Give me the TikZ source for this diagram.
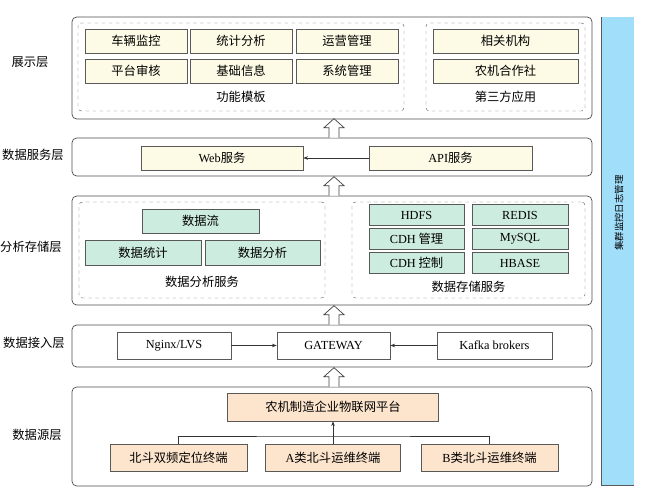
\documentclass[tikz,border=0pt]{standalone}
\usepackage{fontspec}
\setmainfont{Liberation Serif}
\newfontfamily\cjk{Noto Sans CJK SC}
\usetikzlibrary{arrows.meta, calc}
\usepackage{xcolor}
\definecolor{creamfill}{RGB}{253,251,230}
\definecolor{greenfill}{RGB}{205,236,224}
\definecolor{peachfill}{RGB}{252,228,205}
\definecolor{barblue}{RGB}{160,222,250}
\def\pxu{0.03cm}

\begin{document}
\begin{tikzpicture}[
x=0.03cm, y=-0.03cm,
font=\cjk\fontsize{10.5}{12}\selectfont,
sz/.style 2 args={minimum width=#1*\pxu, minimum height=#2*\pxu},
layer/.style={draw=black!70, line width=0.6pt, rounded corners=4pt, inner sep=0pt},
group/.style={draw=black!60, dashed, rounded corners=3pt, inner sep=0pt},
box/.style={draw=black!65, line width=0.5pt, inner sep=0pt},
cbox/.style={box, fill=creamfill},
gbox/.style={box, fill=greenfill},
pbox/.style={box, fill=peachfill},
wbox/.style={box, fill=white},
arrow/.style={-{Stealth[length=4pt, width=3pt]}, draw=black!80, line width=0.5pt},
link/.style={draw=black!80, line width=0.5pt},
hollow/.style={draw=black!75, line width=0.6pt, fill=white} ]

\useasboundingbox (0,0) rectangle (646,495);

% layers
\node[layer, sz={520}{102}] (show) at (332,68) {};
\node[layer, sz={520}{38}] (serv) at (332,157) {};
\node[layer, sz={520}{109}] (store) at (332,250.5) {};
\node[layer, sz={520}{42}] (access) at (332,346) {};
\node[layer, sz={520}{99}] (src) at (332,436.5) {};

\node (showlab) at (30,62) {展示层};
\node (servlab) at (33,155) {数据服务层};
\node (storelab) at (31,247) {分析存储层};
\node (accesslab) at (34,343) {数据接入层};
\node (srclab) at (37,435) {数据源层};

% display layer
\node[group, sz={326}{88}] (func) at (241,67) {};
\node[group, sz={159}{88}] (third) at (505.5,67) {};
\node[cbox, sz={102}{24}] (veh) at (136,41) {车辆监控};
\node[cbox, sz={102}{24}] (stat) at (241,41) {统计分析};
\node[cbox, sz={102}{24}] (oper) at (347,41) {运营管理};
\node[cbox, sz={102}{24}] (audit) at (136,71) {平台审核};
\node[cbox, sz={102}{24}] (base) at (241,71) {基础信息};
\node[cbox, sz={102}{24}] (sys) at (347,71) {系统管理};
\node (funclab) at (241,97) {功能模板};
\node[cbox, sz={145}{24}] (org) at (505.5,41) {相关机构};
\node[cbox, sz={145}{24}] (coop) at (505.5,71) {农机合作社};
\node (thirdlab) at (505.5,97) {第三方应用};

% data service layer
\node[cbox, sz={162}{24}] (web) at (222,158) {{\rmfamily Web}服务};
\node[cbox, sz={163}{24}] (api) at (450.5,158) {{\rmfamily API}服务};
\draw[arrow] (api.west) -- (web.east);

% analysis and storage layer
\node[group, sz={246}{96}] (ana) at (202,250) {};
\node[group, sz={233}{96}] (sto) at (468.5,250) {};
\node[gbox, sz={117}{24}] (flow) at (200.5,221) {数据流};
\node[gbox, sz={116}{25}] (dstat) at (143,252.5) {数据统计};
\node[gbox, sz={115}{25}] (dana) at (262.5,252.5) {数据分析};
\node (analab) at (202,282) {数据分析服务};
\node[gbox, sz={95}{21}] (hdfs) at (416.5,215) {\rmfamily HDFS};
\node[gbox, sz={96}{21}] (redis) at (520,215) {\rmfamily REDIS};
\node[gbox, sz={95}{21}] (cdhm) at (416.5,239) {{\rmfamily CDH} 管理};
\node[gbox, sz={96}{21}] (mysql) at (520,239) {\rmfamily MySQL};
\node[gbox, sz={95}{21}] (cdhc) at (416.5,263) {{\rmfamily CDH} 控制};
\node[gbox, sz={96}{21}] (hbase) at (520,263) {\rmfamily HBASE};
\node (stolab) at (468.5,287) {数据存储服务};

% access layer
\node[wbox, sz={114}{27}] (ngx) at (174,345.5) {\rmfamily Nginx/LVS};
\node[wbox, sz={113}{27}] (gw) at (333.5,345.5) {\rmfamily GATEWAY};
\node[wbox, sz={115}{27}] (kfk) at (494.5,345.5) {\rmfamily Kafka brokers};
\draw[arrow] (ngx.east) -- (gw.west);
\draw[arrow] (kfk.west) -- (gw.east);

% source layer
\node[pbox, sz={211}{28}] (pf) at (333,407) {农机制造企业物联网平台};
\node[pbox, sz={137}{27}] (bd) at (178.5,457.5) {北斗双频定位终端};
\node[pbox, sz={135}{27}] (ab) at (333,457.5) {{\rmfamily A}类北斗运维终端};
\node[pbox, sz={137}{27}] (bb) at (489.5,457.5) {{\rmfamily B}类北斗运维终端};
\coordinate (bus) at (333,436);
\draw[link] (bd.north) |- (bus) -| (bb.north);
\draw[arrow] (ab.north) -- (pf.south);

% hollow arrows between layers
\foreach \lo/\hi in {serv/show, store/serv, access/store, src/access}
  \draw[hollow] ($(\lo.north)+(-3,0)$) -- ++(0,-10) -- ++(-5,0) -- ++(10,-9) -- ++(10,9) -- ++(-5,0) -- ++(0,10);

% side bar
\node[fill=barblue, sz={32}{468}, inner sep=0pt] (bar) at (618,251) {};
\draw[draw=black!65, line width=0.7pt] (bar.north west) -- (bar.south west) -- (bar.south east);
\node[rotate=90, font=\cjk\fontsize{8}{9}\selectfont] (bartxt) at (619,213) {集群监控日志管理};

\end{tikzpicture}
\end{document}
